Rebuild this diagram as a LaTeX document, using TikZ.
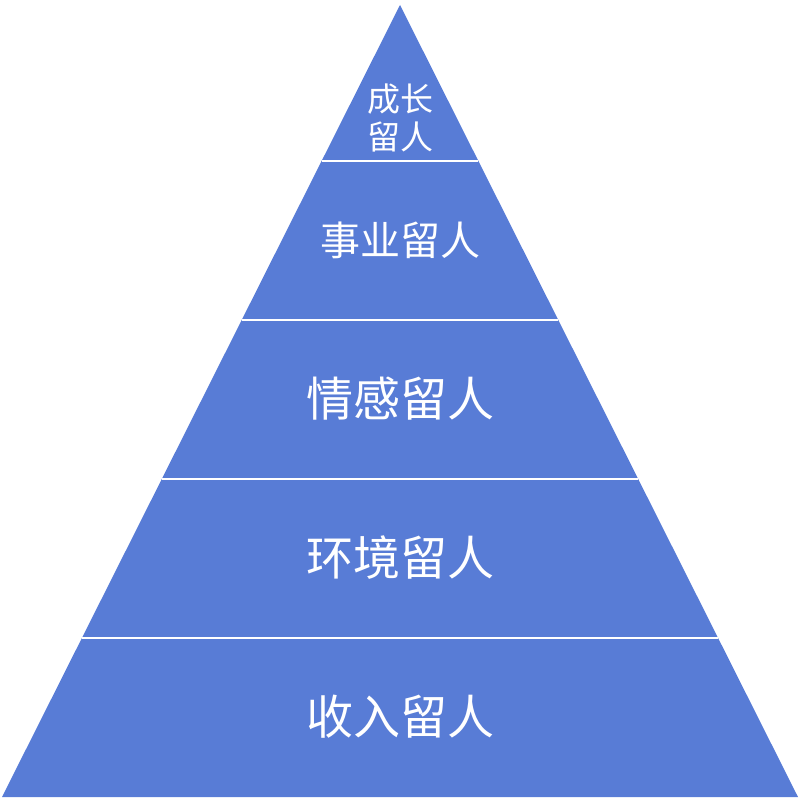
\documentclass[tikz,border=0pt]{standalone}
\usepackage{fontspec}
\newfontfamily\cjk{Noto Sans CJK SC}
\definecolor{pyr}{HTML}{587CD6}
\tikzset{lbl/.style={text=white,font=\cjk,align=center,inner sep=0pt}}
\begin{document}
\begin{tikzpicture}[x=1pt,y=-1pt]
\useasboundingbox (0,0) rectangle (800,799);
\fill[pyr] (400,5) -- (798,797) -- (2,797) -- cycle;
\foreach \y in {161,320,479,638}{
  \pgfmathsetmacro{\dx}{(\y-5)/792*398}
  \draw[white,line width=1.5pt] ({400-\dx},\y) -- ({400+\dx},\y);
}
\node[lbl,font=\cjk\fontsize{33}{38}\selectfont] (t1) at (400,118) {成长\\留人};
\node[lbl,font=\cjk\fontsize{40}{44}\selectfont] (t2) at (400,240) {事业留人};
\node[lbl,font=\cjk\fontsize{47}{50}\selectfont] (t3) at (400,399) {情感留人};
\node[lbl,font=\cjk\fontsize{47}{50}\selectfont] (t4) at (400,558) {环境留人};
\node[lbl,font=\cjk\fontsize{47}{50}\selectfont] (t5) at (400,717) {收入留人};
\end{tikzpicture}
\end{document}
